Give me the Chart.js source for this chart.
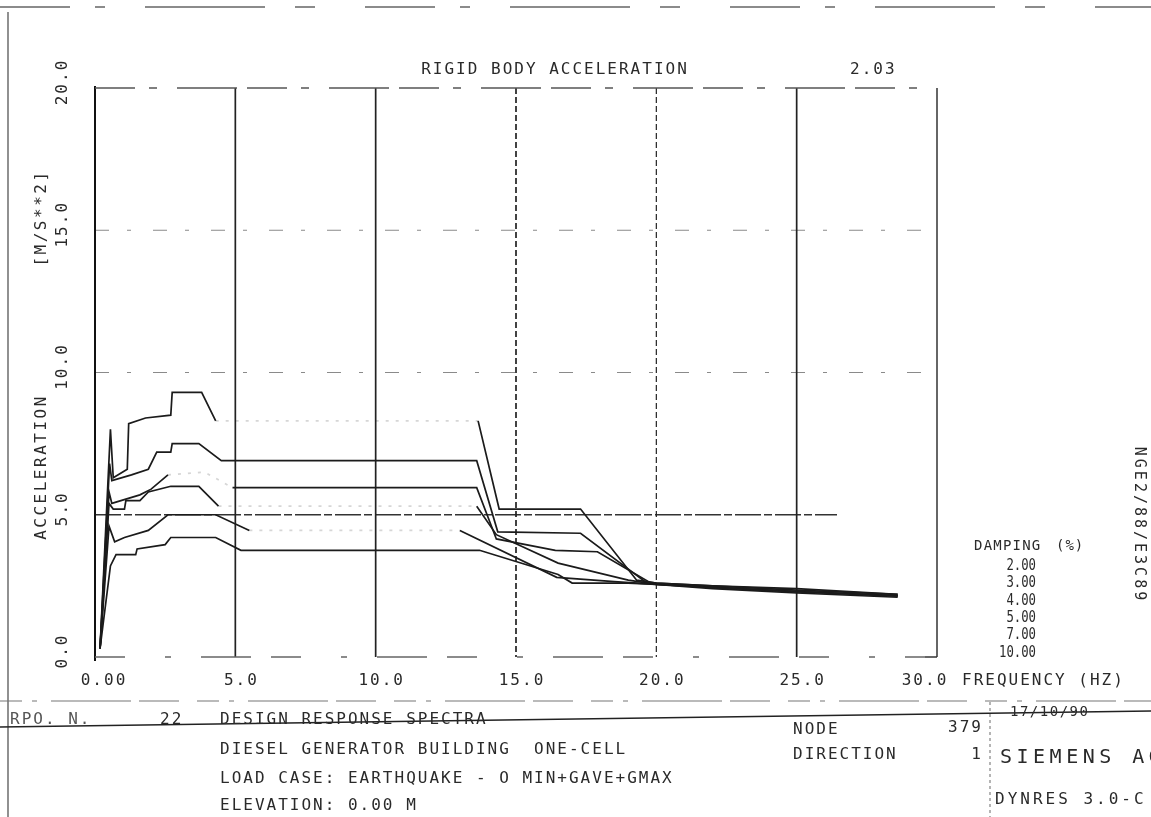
<!DOCTYPE html>
<html>
<head>
<meta charset="utf-8">
<script src="https://cdn.jsdelivr.net/npm/chart.js@4.4.1/dist/chart.umd.min.js"></script>
<style>
  html, body { margin: 0; padding: 0; background: #fff; }
  #wrap { width: 1151px; height: 817px; position: relative; }
</style>
</head>
<body>
<div id="wrap"><canvas id="cSpec" width="1151" height="817"></canvas></div>
<script>
// Design response spectra, rigid body acceleration [m/s**2] vs frequency [Hz]
// values, one pair of arrays per damping ratio
const FREQ_D2  = [0.18, 0.55, 0.65, 1.15, 1.2, 1.8, 2.7, 2.75, 3.8, 4.3, 13.65, 14.4, 17.3, 19.3, 20.0, 22.0, 25.0, 28.6];
const ACC_D2   = [0.30, 8.0, 6.3, 6.6, 8.2, 8.4, 8.5, 9.3, 9.3, 8.3, 8.3, 5.2, 5.2, 2.7, 2.6, 2.5, 2.4, 2.2];
const FREQ_D3  = [0.18, 0.52, 0.6, 1.3, 1.9, 2.2, 2.7, 2.75, 3.7, 4.5, 13.6, 14.35, 17.3, 19.6, 20.0, 22.0, 25.0, 28.6];
const ACC_D3   = [0.30, 6.8, 6.2, 6.4, 6.6, 7.2, 7.2, 7.5, 7.5, 6.9, 6.9, 4.4, 4.35, 2.65, 2.6, 2.5, 2.35, 2.2];
const FREQ_D4  = [0.18, 0.5, 0.6, 1.6, 2.0, 2.6, 3.9, 4.9, 13.6, 14.3, 16.4, 17.9, 19.8, 22.0, 25.0, 28.6];
const ACC_D4   = [0.30, 5.8, 5.4, 5.7, 5.9, 6.4, 6.5, 5.95, 5.95, 4.15, 3.75, 3.7, 2.6, 2.45, 2.3, 2.15];
const FREQ_D5  = [0.18, 0.5, 0.65, 1.05, 1.1, 1.6, 1.9, 2.7, 3.7, 4.4, 13.6, 14.3, 16.5, 19.0, 20.0, 22.0, 25.0, 28.6];
const ACC_D5   = [0.30, 5.4, 5.2, 5.2, 5.5, 5.5, 5.8, 6.0, 6.0, 5.3, 5.3, 4.3, 3.3, 2.7, 2.55, 2.45, 2.3, 2.15];
const FREQ_D7  = [0.18, 0.5, 0.7, 1.05, 1.9, 2.6, 4.3, 5.5, 13.0, 16.45, 18.5, 20.0, 22.0, 25.0, 28.6];
const ACC_D7   = [0.30, 4.6, 4.05, 4.2, 4.45, 5.0, 5.0, 4.45, 4.45, 2.8, 2.65, 2.55, 2.45, 2.3, 2.15];
const FREQ_D10 = [0.18, 0.55, 0.75, 1.45, 1.5, 2.5, 2.7, 4.3, 5.2, 13.7, 16.5, 17.0, 19.0, 20.0, 22.0, 25.0, 28.6];
const ACC_D10  = [0.30, 3.2, 3.6, 3.6, 3.8, 3.95, 4.2, 4.2, 3.75, 3.75, 2.9, 2.6, 2.6, 2.55, 2.4, 2.25, 2.1];

const DAMPING   = ['2.00', '3.00', '4.00', '5.00', '7.00', '10.00'];
const X_TICKS   = [0, 5, 10, 15, 20, 25, 30];
const Y_TICKS   = [0, 5, 10, 15, 20];
const X_LABELS  = ['0.00', '5.0', '10.0', '15.0', '20.0', '25.0', '30.0'];
const Y_LABELS  = ['0.0', '5.0', '10.0', '15.0', '20.0'];

const TITLE     = 'RIGID BODY ACCELERATION';
const RBA_VALUE = '2.03';
const SIDE_CODE = 'NGE2/88/E3C89';

// faded parts of the scanned pen lines (x ranges in Hz), style only
const FAINT = {
  '2.00': [[4.3, 13.65]],
  '4.00': [[2.6, 4.9]],
  '5.00': [[4.4, 13.6]],
  '7.00': [[5.5, 13.0]]
};

const FONT = '"DejaVu Sans Mono", "Liberation Mono", monospace';
const INK = '#1b1b1b';

function pts(xs, ys) { return xs.map((x, i) => ({ x, y: ys[i] })); }

function mkSet(label, xs, ys) {
  const ranges = FAINT[label] || [];
  const faint = c => {
    const a = c.p0.parsed.x, b = c.p1.parsed.x;
    return ranges.some(r => a >= r[0] - 1e-6 && b <= r[1] + 1e-6);
  };
  return {
    label,
    data: pts(xs, ys),
    showLine: true,
    borderColor: INK,
    borderWidth: 1.7,
    pointRadius: 0,
    pointHoverRadius: 0,
    tension: 0,
    segment: {
      borderColor: c => faint(c) ? 'rgba(30,30,30,0.18)' : undefined,
      borderDash: c => faint(c) ? [3, 7] : undefined
    }
  };
}

function txt(ctx, s, x, y, o = {}) {
  ctx.save();
  ctx.font = `${o.weight || 'normal'} ${o.size || 16}px ${FONT}`;
  ctx.letterSpacing = (o.ls ?? 2) + 'px';
  ctx.fillStyle = o.color || '#2a2a2a';
  ctx.textBaseline = 'middle';
  ctx.textAlign = o.align || 'left';
  ctx.translate(x, y);
  if (o.rot) ctx.rotate(o.rot);
  if (o.sx) ctx.scale(o.sx, 1);
  ctx.fillText(s, 0, 0);
  ctx.restore();
}

function line(ctx, x1, y1, x2, y2, color, w, dash) {
  ctx.save();
  ctx.strokeStyle = color;
  ctx.lineWidth = w;
  ctx.setLineDash(dash || []);
  ctx.beginPath();
  ctx.moveTo(x1, y1);
  ctx.lineTo(x2, y2);
  ctx.stroke();
  ctx.restore();
}

// grid, frame and all the printed text of the plotter sheet
const sheetPlugin = {
  id: 'sheet',
  beforeDatasetsDraw(chart) {
    const { ctx, chartArea: a, scales: { x, y } } = chart;
    // horizontal grid (dashed, faint), 5.0 line printed darker
    Y_TICKS.forEach(v => {
      if (v === 0 || v === 20) return;
      const py = y.getPixelForValue(v);
      if (v === 5) line(ctx, a.left, py, a.right - 100, py, '#333', 1.6, [26, 3, 8, 3]);
      else line(ctx, a.left, py, a.right, py, '#8a8a8a', 1.1, [14, 18, 4, 22]);
    });
    // vertical grid (dark)
    X_TICKS.forEach(v => {
      if (v === 0 || v === 30) return;
      const px = x.getPixelForValue(v);
      const dash = (v === 15 || v === 20) ? [6, 3] : [];
      line(ctx, px, a.top, px, a.bottom, '#222', v === 20 ? 1.2 : 1.7, dash);
    });
    // frame
    line(ctx, a.left, a.top - 2, a.left, a.bottom + 4, '#111', 2);
    line(ctx, a.right, a.top, a.right, a.bottom, '#333', 1.5);
    line(ctx, a.right - 12, a.bottom, a.right, a.bottom, '#333', 1.5);
    line(ctx, a.left, a.top, a.right, a.top, '#555', 1.4, [40, 14, 8, 20, 60, 10]);
    line(ctx, a.left, a.bottom, a.right - 12, a.bottom, '#666', 1.3, [30, 40, 6, 30, 50, 20]);
  },
  afterDraw(chart) {
    const { ctx, scales: { x, y } } = chart;

    // sheet borders
    line(ctx, 0, 7, 1151, 7, '#666', 1.3, [70, 25, 10, 40, 120, 30, 20, 50]);
    line(ctx, 8, 12, 8, 817, '#555', 1.3);

    // title
    txt(ctx, TITLE, 555, 70, { align: 'center' });
    txt(ctx, RBA_VALUE, 850, 70);

    // y tick labels (rotated)
    Y_TICKS.forEach((v, i) => {
      txt(ctx, Y_LABELS[i], 63, y.getPixelForValue(v) - 6, { align: 'center', rot: -Math.PI / 2 });
    });
    txt(ctx, 'ACCELERATION', 42, 467, { align: 'center', rot: -Math.PI / 2, ls: 2.5 });
    txt(ctx, '[M/S**2]', 42, 218, { align: 'center', rot: -Math.PI / 2, ls: 2.5 });

    // x tick labels
    X_TICKS.forEach((v, i) => {
      let px = x.getPixelForValue(v) + 6;
      if (i === 0) px += 3;
      if (i === X_TICKS.length - 1) px -= 18;
      txt(ctx, X_LABELS[i], px, 681, { align: 'center' });
    });
    txt(ctx, 'FREQUENCY (HZ)', 962, 681);

    // damping legend
    txt(ctx, 'DAMPING', 974, 546, { size: 14, ls: 1.2 });
    txt(ctx, '(%)', 1056, 546, { size: 14, ls: 1 });
    DAMPING.forEach((d, i) => {
      txt(ctx, d, 1036, 566 + i * 17.4, { size: 15, ls: 0, align: 'right', sx: 0.82 });
    });

    // side code
    txt(ctx, SIDE_CODE, 1139, 525, { align: 'center', rot: Math.PI / 2, size: 15, ls: 3 });

    // title block under the plot
    line(ctx, 0, 701, 1151, 701, '#777', 1.2, [22, 10, 5, 14, 80, 8, 40, 18]);
    line(ctx, 0, 727, 1151, 711, '#222', 1.6);
    line(ctx, 990, 702, 990, 817, '#777', 1.1, [3, 3]);

    txt(ctx, 'RPO. N.', 10, 720, { color: '#555' });
    txt(ctx, '22', 160, 720);
    txt(ctx, 'DESIGN RESPONSE SPECTRA', 220, 720);
    txt(ctx, 'DIESEL GENERATOR BUILDING  ONE-CELL', 220, 750);
    txt(ctx, 'LOAD CASE: EARTHQUAKE - O MIN+GAVE+GMAX', 220, 779);
    txt(ctx, 'ELEVATION: 0.00 M', 220, 806);

    txt(ctx, 'NODE', 793, 730);
    txt(ctx, '379', 983, 728, { align: 'right' });
    txt(ctx, 'DIRECTION', 793, 755);
    txt(ctx, '1', 983, 755, { align: 'right' });
    txt(ctx, '17/10/90', 1010, 712, { size: 14, ls: 1.5 });
    txt(ctx, 'SIEMENS AG', 1000, 758, { size: 20, ls: 4.5 });
    txt(ctx, 'DYNRES 3.0-C', 995, 800, { size: 16, ls: 3 });
  }
};

new Chart(document.getElementById('cSpec').getContext('2d'), {
  type: 'scatter',
  data: {
    datasets: [
      mkSet('2.00', FREQ_D2, ACC_D2),
      mkSet('3.00', FREQ_D3, ACC_D3),
      mkSet('4.00', FREQ_D4, ACC_D4),
      mkSet('5.00', FREQ_D5, ACC_D5),
      mkSet('7.00', FREQ_D7, ACC_D7),
      mkSet('10.00', FREQ_D10, ACC_D10)
    ]
  },
  options: {
    responsive: false,
    animation: false,
    layout: { autoPadding: false, padding: { left: 95, top: 88, right: 214, bottom: 160 } },
    plugins: { legend: { display: false }, tooltip: { enabled: false } },
    scales: {
      x: {
        type: 'linear', min: 0, max: 30,
        ticks: { display: false, stepSize: 5 },
        grid: { display: false, drawTicks: false }, border: { display: false }
      },
      y: {
        type: 'linear', min: 0, max: 20,
        ticks: { display: false, stepSize: 5 },
        grid: { display: false, drawTicks: false }, border: { display: false }
      }
    }
  },
  plugins: [sheetPlugin]
});
</script>
</body>
</html>
